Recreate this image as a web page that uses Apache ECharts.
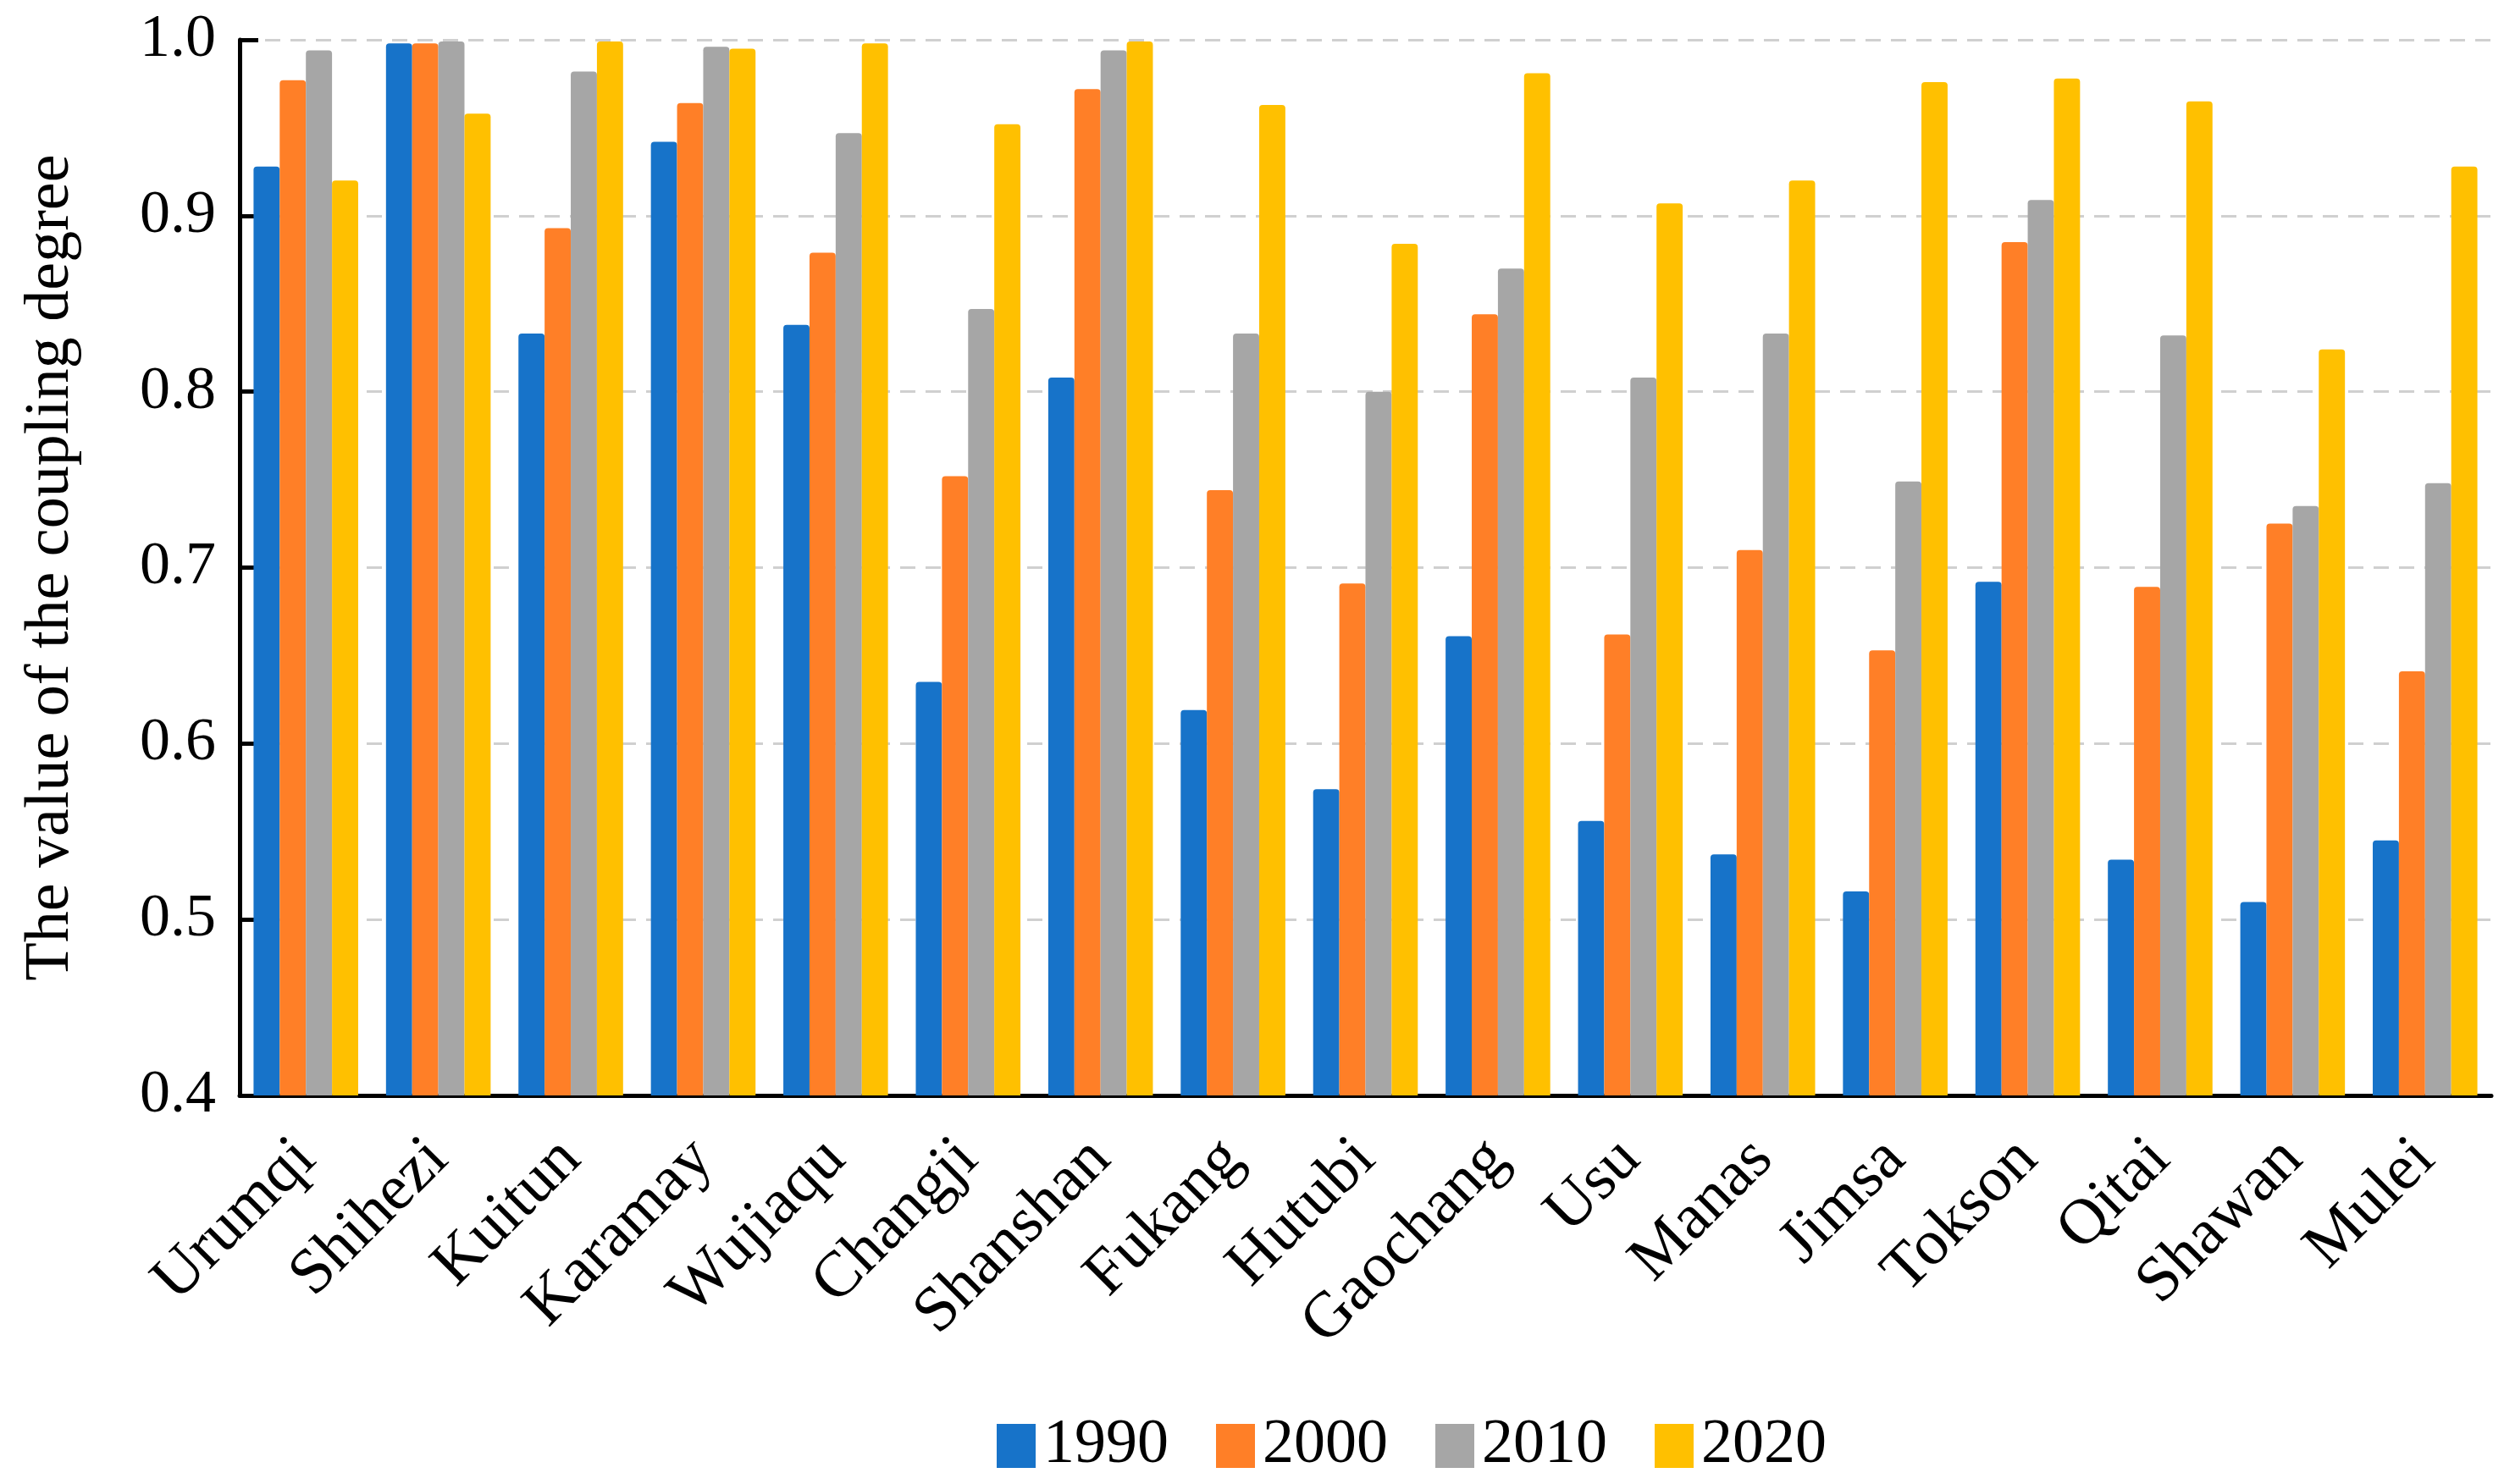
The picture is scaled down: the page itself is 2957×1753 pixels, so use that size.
<!DOCTYPE html>
<html>
<head>
<meta charset="utf-8">
<script src="https://cdn.jsdelivr.net/npm/echarts@6/dist/echarts.min.js"></script>
<style>html,body{margin:0;padding:0;background:#fff;}#c{width:2957px;height:1753px;}</style>
</head>
<body>
<div id="c"></div>
<script>
const categories = ['Urumqi','Shihezi','Kuitun','Karamay','Wujiaqu','Changji','Shanshan','Fukang','Hutubi','Gaochang','Usu','Manas','Jimsa','Tokson','Qitai','Shawan','Mulei'];
const years = ['1990','2000','2010','2020'];
const v1990 = [0.928,0.998,0.833,0.942,0.838,0.635,0.808,0.619,0.574,0.661,0.556,0.537,0.516,0.692,0.534,0.510,0.545];
const v2000 = [0.977,0.998,0.893,0.964,0.879,0.752,0.972,0.744,0.691,0.844,0.662,0.710,0.653,0.885,0.689,0.725,0.641];
const v2010 = [0.994,0.999,0.982,0.996,0.947,0.847,0.994,0.833,0.800,0.870,0.808,0.833,0.749,0.909,0.832,0.735,0.748];
const v2020 = [0.920,0.958,0.999,0.995,0.998,0.952,0.999,0.963,0.884,0.981,0.907,0.920,0.976,0.978,0.965,0.824,0.928];
const yTicks = ['0.4','0.5','0.6','0.7','0.8','0.9','1.0'];
const colors = ['#1773C9','#FF7F27','#A6A6A6','#FFC000'];
const seriesValues = [v1990, v2000, v2010, v2020];

const font = "'Liberation Serif', 'Times New Roman', serif";
const chart = echarts.init(document.getElementById('c'));
chart.setOption({
  backgroundColor: '#fff',
  animation: false,
  color: colors,
  textStyle: { fontFamily: font, color: '#000' },
  grid: { left: 283, right: 15, top: 47, bottom: 459, containLabel: false },
  legend: {
    data: years,
    left: 1172,
    top: 1666,
    itemWidth: 46,
    itemHeight: 52,
    itemGap: 56,
    icon: 'rect',
    textStyle: { fontFamily: font, fontSize: 74, color: '#000', padding: [0,0,0,4] }
  },
  xAxis: {
    type: 'category',
    data: categories,
    boundaryGap: true,
    axisLine: { lineStyle: { color: '#000', width: 5 } },
    axisTick: { inside: true, length: 18, lineStyle: { color: '#000', width: 5 } },
    axisLabel: { rotate: 45, fontFamily: font, fontSize: 76, color: '#000', margin: 64, interval: 0 }
  },
  yAxis: {
    type: 'value',
    min: 0.4, max: 1.0, interval: 0.1,
    name: 'The value of the coupling degree',
    nameLocation: 'middle',
    nameGap: 185,
    nameTextStyle: { fontFamily: font, fontSize: 74, color: '#000' },
    axisLine: { show: true, lineStyle: { color: '#000', width: 5 } },
    axisTick: { show: true, inside: true, length: 22, lineStyle: { color: '#000', width: 5 } },
    axisLabel: { fontFamily: font, fontSize: 72, color: '#000', margin: 28,
      formatter: function (v) { const s = v.toFixed(1); return yTicks.indexOf(s) >= 0 ? s : ''; } },
    splitLine: { show: true, lineStyle: { color: '#D0D0D0', width: 3, type: [18, 12] } }
  },
  series: years.map((y, i) => ({
    name: y,
    type: 'bar',
    data: seriesValues[i],
    barGap: '0%',
    barCategoryGap: '21%',
    itemStyle: { color: colors[i], borderRadius: [4,4,0,0] }
  }))
});
</script>
</body>
</html>
